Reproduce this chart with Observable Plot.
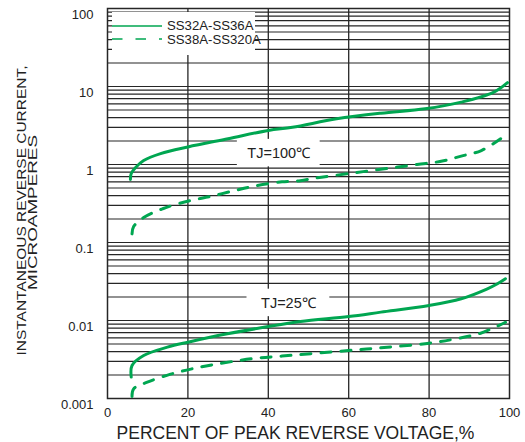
<!DOCTYPE html>
<html>
<head>
<meta charset="utf-8">
<script src="https://cdn.jsdelivr.net/npm/d3@7"></script>
<script src="https://cdn.jsdelivr.net/npm/@observablehq/plot@0.6"></script>
<style>
  body { margin: 0; background: #fff; }
  #wrap { position: relative; width: 525px; height: 442px; font-family: "Liberation Sans", Arial, sans-serif; }
  #legend { position: absolute; left: 112px; top: 12px; width: 143px; height: 43px; background: #fff; }
  .lrow { position: absolute; left: 0; height: 13px; display: flex; align-items: center; white-space: nowrap; }
  .lrow svg { display: block; }
  .lrow span { margin-left: 5px; font-size: 13.2px; color: #222; line-height: 13px; }
</style>
</head>
<body>
<div id="wrap"></div>
<script>
// ---- data ----
const seriesNames = ["SS32A-SS36A", "SS38A-SS320A"];
const seriesDash = [null, "10,10"];
const lineColor = "#00a651";

// TJ = 100 °C, SS32A-SS36A (solid)
const pctHotA = [5.7, 5.9, 7.0, 9.0, 13.2, 20, 30, 40, 46, 57, 68, 79, 88, 96, 99.5];
const curHotA = [0.643, 0.767, 0.916, 1.125, 1.38, 1.68, 2.14, 2.73, 3.0, 3.85, 4.55, 5.17, 6.3, 8.4, 11.2];
// TJ = 100 °C, SS38A-SS320A (dashed)
const pctHotB = [6.1, 6.5, 9.0, 13.9, 20.6, 25.6, 31.4, 36.4, 43.4, 48, 52, 57, 62, 67, 77, 83, 88, 93, 97.8];
const curHotB = [0.129, 0.160, 0.209, 0.273, 0.345, 0.389, 0.46, 0.527, 0.60, 0.62, 0.675, 0.73, 0.79, 0.855, 1.0, 1.10, 1.28, 1.51, 2.14];
// TJ = 25 °C, SS32A-SS36A (solid)
const pctColdA = [5.9, 6.1, 9.0, 14.9, 20, 29.8, 40, 48, 60, 68, 80, 88, 94.5, 97, 99];
const curColdA = [0.00188, 0.00265, 0.00356, 0.00455, 0.00527, 0.00675, 0.00837, 0.0097, 0.01125, 0.0128, 0.01557, 0.019, 0.0255, 0.0296, 0.0343];
// TJ = 25 °C, SS38A-SS320A (dashed)
const pctColdB = [6.1, 6.5, 9.9, 15.7, 21, 26, 31.4, 37, 43.4, 60, 68, 80, 86.6, 92.8, 99];
const curColdB = [0.00106, 0.00133, 0.00162, 0.00205, 0.0024, 0.0027, 0.003, 0.00329, 0.0035, 0.00412, 0.00447, 0.00512, 0.00582, 0.00687, 0.0095];

const xTicks = [0, 20, 40, 60, 80, 100];
const xGrid = [20, 40, 60, 80];
const yTicks = [0.001, 0.01, 0.1, 1, 10, 100];
const yTickLabels = ["0.001", "0.01", "0.1", "1", "10", "100"];
const gridMultipliers = [1, 2, 3, 4, 5, 6, 7, 8, 9];

const annoText = ["TJ=100\u2103", "TJ=25\u2103"];
const annoPct = [42.6, 45.0];
const annoCur = [1.4, 0.0168];

const xLabel = "PERCENT OF PEAK REVERSE VOLTAGE,%";
const yLabelLines = ["INSTANTANEOUS REVERSE CURRENT,", "MICROAMPERES"];
const yLabelLengths = [290, 155];

// ---- build tables ----
const toRows = (xs, ys) => xs.map((x, i) => ({x, y: ys[i]}));
const hotA = toRows(pctHotA, curHotA);
const hotB = toRows(pctHotB, curHotB);
const coldA = toRows(pctColdA, curColdA);
const coldB = toRows(pctColdB, curColdB);

const yGrid = [];
for (const dec of yTicks.slice(0, -1)) for (const m of gridMultipliers) yGrid.push(dec * m);
yGrid.push(yTicks[yTicks.length - 1]);

const anno = annoText.map((t, i) => ({t, x: annoPct[i], y: annoCur[i]}));

const gridColor = "#262626";
const font = "Liberation Sans, Arial, sans-serif";
const curveType = "catmull-rom";

const chart = Plot.plot({
  width: 525,
  height: 442,
  marginLeft: 107,
  marginRight: 16,
  marginTop: 8,
  marginBottom: 44,
  x: {domain: [0, 100]},
  y: {type: "log", domain: [0.001, 100]},
  style: {fontFamily: font, background: "white", color: "#222"},
  marks: [
    Plot.ruleY(yGrid, {stroke: gridColor, strokeWidth: 1.2}),
    Plot.ruleX(xGrid, {stroke: gridColor, strokeWidth: 1.3}),
    Plot.rect(anno, {x1: d => d.x - 10.3, x2: d => d.x + 10.3, y1: d => d.y / 1.5, y2: d => d.y * 1.5, fill: "white"}),
    Plot.text(anno, {x: "x", y: "y", text: "t", fontSize: 14.5, fill: "#222"}),
    Plot.frame({stroke: gridColor, strokeWidth: 1.5}),
    Plot.line(hotA, {x: "x", y: "y", stroke: lineColor, strokeWidth: 3, curve: curveType}),
    Plot.line(coldA, {x: "x", y: "y", stroke: lineColor, strokeWidth: 3, curve: curveType}),
    Plot.line(hotB, {x: "x", y: "y", stroke: lineColor, strokeWidth: 3, curve: curveType, strokeDasharray: seriesDash[1]}),
    Plot.line(coldB, {x: "x", y: "y", stroke: lineColor, strokeWidth: 3, curve: curveType, strokeDasharray: seriesDash[1]}),
    Plot.axisX({ticks: xTicks, tickSize: 0, tickPadding: 9, label: null, fontSize: 13}),
    Plot.axisY({ticks: yTicks, tickFormat: d => yTickLabels[yTicks.indexOf(d)], tickSize: 0, tickPadding: 14, dy: 6, label: null, fontSize: 13}),
    Plot.text([xLabel], {text: d => d, frameAnchor: "bottom", dy: 35, dx: -13, fontSize: 17.5, lineAnchor: "middle"}),
    Plot.text([yLabelLines[0]], {text: d => d, frameAnchor: "left", textAnchor: "middle", rotate: -90, dx: -86, dy: 7, fontSize: 12.5, lineAnchor: "middle"}),
    Plot.text([yLabelLines[1]], {text: d => d, frameAnchor: "left", textAnchor: "middle", rotate: -90, dx: -75, dy: 9, fontSize: 12.5, lineAnchor: "middle"})
  ]
});

// stretch the y-axis title lines to the reference's lengths
d3.select(chart).selectAll("text").each(function () {
  const idx = yLabelLines.indexOf(this.textContent);
  if (idx >= 0) {
    d3.select(this).attr("textLength", yLabelLengths[idx]).attr("lengthAdjust", "spacingAndGlyphs");
  }
});

const wrap = document.getElementById("wrap");
wrap.appendChild(chart);

// legend overlay
const legend = document.createElement("div");
legend.id = "legend";
seriesNames.forEach((name, i) => {
  const row = document.createElement("div");
  row.className = "lrow";
  row.style.top = (7 + i * 13.5) + "px";
  const svg = d3.create("svg").attr("width", 50).attr("height", 4);
  svg.append("line").attr("x1", 0).attr("x2", 50).attr("y1", 2).attr("y2", 2)
    .attr("stroke", lineColor).attr("stroke-width", 1.5)
    .attr("stroke-dasharray", i === 1 ? "10.5,13" : null);
  row.appendChild(svg.node());
  const span = document.createElement("span");
  span.textContent = name;
  row.appendChild(span);
  legend.appendChild(row);
});
wrap.appendChild(legend);
</script>
</body>
</html>
